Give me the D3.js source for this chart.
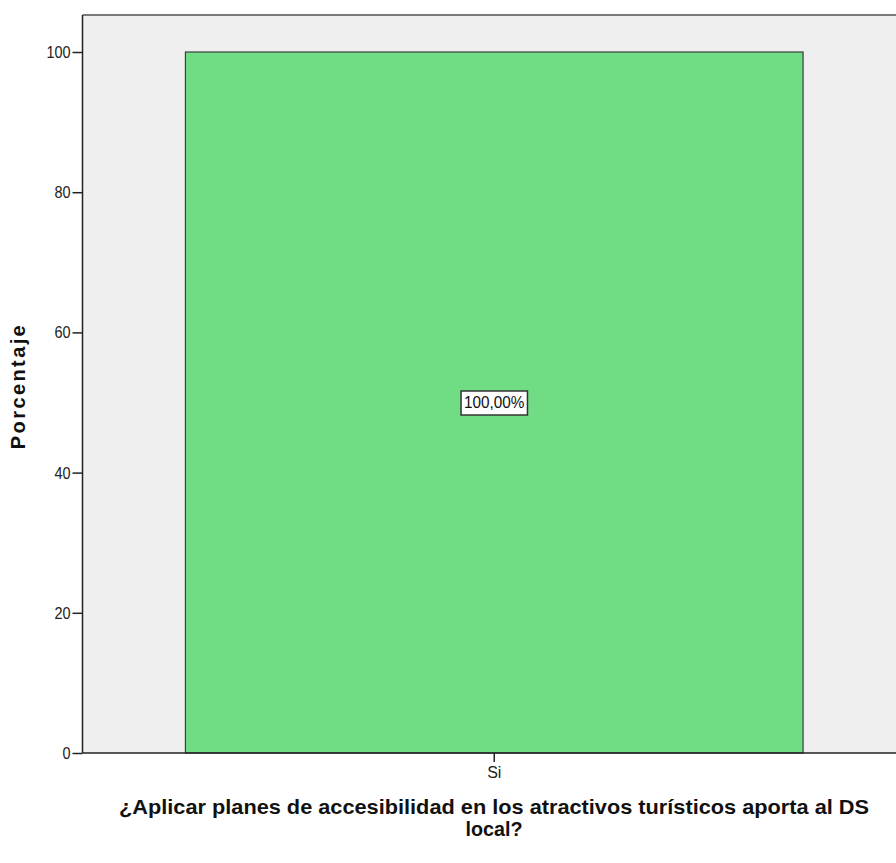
<!DOCTYPE html>
<html>
<head>
<meta charset="utf-8">
<script src="https://cdn.jsdelivr.net/npm/d3@7/dist/d3.min.js"></script>
<style>
  html, body { margin: 0; padding: 0; background: #ffffff; }
  svg { display: block; }
</style>
</head>
<body>
<svg id="chart" width="896" height="863"></svg>
<script>
// ---- data ----
const categories = ["Si"];
const percentages = [100];
const barLabels = ["100,00%"];
const yTicks = [0, 20, 40, 60, 80, 100];
const yTitle = "Porcentaje";
const xTitleLines = ["¿Aplicar planes de accesibilidad en los atractivos turísticos aporta al DS", "local?"];

const svg = d3.select("#chart");
const plot = { left: 82.5, top: 15, right: 906, bottom: 753 };
const narrow = "'Liberation Sans Narrow', 'Arial Narrow', 'Liberation Sans', Arial, sans-serif";

const y = d3.scaleLinear().domain([0, 100]).range([plot.bottom, 52]);
const x = d3.scaleBand().domain(categories).range([plot.left, plot.right])
  .paddingInner(0).paddingOuter(1 / 6);

// background
svg.append("rect")
  .attr("x", plot.left).attr("y", plot.top)
  .attr("width", 896 - plot.left).attr("height", plot.bottom - plot.top)
  .attr("fill", "#efefef");

// top border
svg.append("line")
  .attr("x1", plot.left).attr("x2", 896)
  .attr("y1", plot.top).attr("y2", plot.top)
  .attr("stroke", "#7a7a7a").attr("stroke-width", 2);

// bars
svg.selectAll("rect.bar").data(categories).enter().append("rect")
  .attr("class", "bar")
  .attr("x", d => x(d))
  .attr("y", (d, i) => y(percentages[i]))
  .attr("width", x.bandwidth())
  .attr("height", (d, i) => y(0) - y(percentages[i]))
  .attr("fill", "#70dd84")
  .attr("stroke", "#3c3c3c").attr("stroke-width", 1.2);

// y axis
const yAxis = svg.append("g")
  .attr("transform", `translate(${plot.left},0)`)
  .call(d3.axisLeft(y).tickValues(yTicks).tickSize(10).tickPadding(2).tickFormat(d3.format("d")));
yAxis.select(".domain").attr("stroke", "#222").attr("stroke-width", 1.5)
  .attr("d", `M0,${plot.top}V${plot.bottom}`);
yAxis.selectAll(".tick line").attr("stroke", "#222").attr("stroke-width", 1.5);
yAxis.selectAll(".tick text")
  .attr("font-family", narrow)
  .attr("font-size", 17).attr("fill", "#222")
  .attr("textLength", function () { return this.getComputedTextLength() * 0.85; })
  .attr("lengthAdjust", "spacingAndGlyphs");

// x axis
const xAxis = svg.append("g")
  .attr("transform", `translate(0,${plot.bottom})`)
  .call(d3.axisBottom(x).tickSize(9).tickPadding(5));
xAxis.select(".domain").attr("stroke", "#222").attr("stroke-width", 1.5)
  .attr("d", `M${plot.left},0H896`);
xAxis.selectAll(".tick line").attr("stroke", "#222").attr("stroke-width", 1.5);
xAxis.selectAll(".tick text")
  .attr("font-family", narrow)
  .attr("font-size", 16).attr("fill", "#222");

// bar labels
categories.forEach((c, i) => {
  const cx = x(c) + x.bandwidth() / 2;
  const cy = y(percentages[i] / 2);
  const g = svg.append("g");
  const t = g.append("text")
    .attr("x", cx).attr("y", cy)
    .attr("text-anchor", "middle").attr("dominant-baseline", "central")
    .attr("font-family", narrow)
    .attr("font-size", 17).attr("fill", "#111")
    .text(barLabels[i]);
  t.attr("textLength", t.node().getComputedTextLength() * 0.9).attr("lengthAdjust", "spacingAndGlyphs");
  const bb = t.node().getBBox();
  g.insert("rect", "text")
    .attr("x", bb.x - 3).attr("y", bb.y - 2)
    .attr("width", bb.width + 6).attr("height", bb.height + 5)
    .attr("fill", "#ffffff").attr("stroke", "#333").attr("stroke-width", 1.5);
});

// y title
svg.append("text")
  .attr("transform", `translate(25,${(plot.top + plot.bottom) / 2 + 2}) rotate(-90)`)
  .attr("text-anchor", "middle")
  .attr("font-family", "'Liberation Sans', Arial, sans-serif")
  .attr("font-weight", "bold").attr("font-size", 20)
  .attr("letter-spacing", 2.4)
  .attr("fill", "#111")
  .text(yTitle);

// x title
const xt = svg.append("text")
  .attr("text-anchor", "middle")
  .attr("font-family", narrow)
  .attr("font-weight", "bold").attr("font-size", 21)
  .attr("fill", "#111");
xTitleLines.forEach((line, i) => {
  const ts = xt.append("tspan").attr("x", 494).attr("y", 814 + i * 22).text(line);
  if (i === 0) ts.attr("textLength", 750).attr("lengthAdjust", "spacingAndGlyphs");
  else ts.attr("textLength", ts.node().getComputedTextLength() * 0.94).attr("lengthAdjust", "spacingAndGlyphs");
});
</script>
</body>
</html>
